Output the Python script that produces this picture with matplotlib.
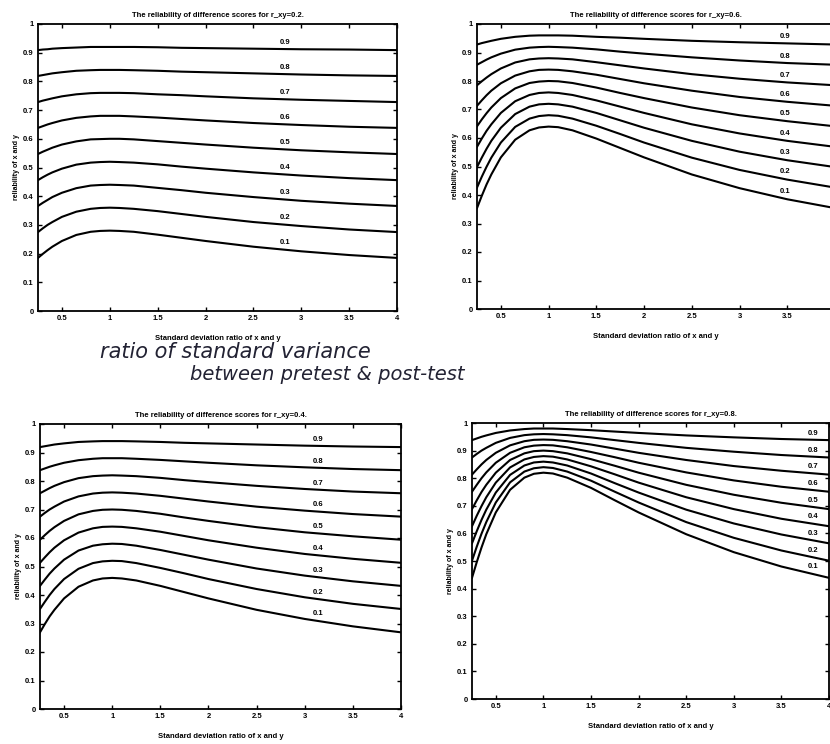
import matplotlib
matplotlib.use("Agg")
import matplotlib.pyplot as plt
import numpy as np

# sd ratio of x and y (x axis) and curve labels
sd_ratio = [0.25, 0.3, 0.35, 0.4, 0.5, 0.65, 0.8, 0.9, 1.0, 1.1, 1.25, 1.5, 1.75, 2.0, 2.5, 3.0, 3.5, 4.0]
curve_labels = ['0.1', '0.2', '0.3', '0.4', '0.5', '0.6', '0.7', '0.8', '0.9']

# reliability of x and y, one row per curve (0.1 ... 0.9)
rel_r02 = [
    [0.185, 0.199, 0.212, 0.224, 0.244, 0.265, 0.276, 0.279, 0.280, 0.279, 0.276, 0.266, 0.255, 0.244, 0.224, 0.208, 0.195, 0.185],
    [0.275, 0.288, 0.300, 0.310, 0.328, 0.346, 0.356, 0.359, 0.360, 0.359, 0.356, 0.348, 0.338, 0.328, 0.310, 0.296, 0.284, 0.275],
    [0.366, 0.377, 0.387, 0.397, 0.412, 0.428, 0.437, 0.439, 0.440, 0.439, 0.437, 0.429, 0.421, 0.412, 0.397, 0.384, 0.374, 0.366],
    [0.456, 0.466, 0.475, 0.483, 0.496, 0.510, 0.517, 0.519, 0.520, 0.519, 0.517, 0.511, 0.503, 0.496, 0.483, 0.472, 0.463, 0.456],
    [0.547, 0.555, 0.562, 0.569, 0.580, 0.591, 0.598, 0.599, 0.600, 0.600, 0.598, 0.592, 0.586, 0.580, 0.569, 0.560, 0.553, 0.547],
    [0.638, 0.644, 0.650, 0.655, 0.664, 0.673, 0.678, 0.680, 0.680, 0.680, 0.678, 0.674, 0.669, 0.664, 0.655, 0.648, 0.642, 0.638],
    [0.728, 0.733, 0.737, 0.741, 0.748, 0.755, 0.759, 0.760, 0.760, 0.760, 0.759, 0.755, 0.752, 0.748, 0.741, 0.736, 0.732, 0.728],
    [0.819, 0.822, 0.825, 0.828, 0.832, 0.837, 0.839, 0.840, 0.840, 0.840, 0.839, 0.837, 0.834, 0.832, 0.828, 0.824, 0.821, 0.819],
    [0.909, 0.911, 0.912, 0.914, 0.916, 0.918, 0.920, 0.920, 0.920, 0.920, 0.920, 0.919, 0.917, 0.916, 0.914, 0.912, 0.911, 0.909],
]
rel_r04 = [
    [0.269, 0.298, 0.325, 0.348, 0.388, 0.429, 0.451, 0.458, 0.460, 0.458, 0.451, 0.432, 0.410, 0.388, 0.348, 0.316, 0.290, 0.269],
    [0.351, 0.376, 0.400, 0.421, 0.456, 0.492, 0.512, 0.518, 0.520, 0.519, 0.512, 0.495, 0.476, 0.456, 0.421, 0.392, 0.369, 0.351],
    [0.432, 0.454, 0.475, 0.493, 0.524, 0.556, 0.573, 0.578, 0.580, 0.579, 0.573, 0.558, 0.541, 0.524, 0.493, 0.468, 0.448, 0.432],
    [0.513, 0.532, 0.550, 0.566, 0.592, 0.619, 0.634, 0.639, 0.640, 0.639, 0.634, 0.622, 0.607, 0.592, 0.566, 0.544, 0.527, 0.513],
    [0.594, 0.610, 0.625, 0.638, 0.660, 0.683, 0.695, 0.699, 0.700, 0.699, 0.695, 0.685, 0.672, 0.660, 0.638, 0.620, 0.606, 0.594],
    [0.675, 0.688, 0.700, 0.710, 0.728, 0.746, 0.756, 0.759, 0.760, 0.759, 0.756, 0.748, 0.738, 0.728, 0.710, 0.696, 0.684, 0.675],
    [0.757, 0.766, 0.775, 0.783, 0.796, 0.810, 0.817, 0.819, 0.820, 0.819, 0.817, 0.811, 0.803, 0.796, 0.783, 0.772, 0.763, 0.757],
    [0.838, 0.844, 0.850, 0.855, 0.864, 0.873, 0.878, 0.880, 0.880, 0.880, 0.878, 0.874, 0.869, 0.864, 0.855, 0.848, 0.842, 0.838],
    [0.919, 0.922, 0.925, 0.928, 0.932, 0.937, 0.939, 0.940, 0.940, 0.940, 0.939, 0.937, 0.934, 0.932, 0.928, 0.924, 0.921, 0.919],
]
rel_r06 = [
    [0.354, 0.397, 0.437, 0.472, 0.532, 0.594, 0.627, 0.637, 0.640, 0.638, 0.627, 0.598, 0.565, 0.532, 0.472, 0.424, 0.385, 0.354],
    [0.426, 0.464, 0.499, 0.531, 0.584, 0.639, 0.668, 0.677, 0.680, 0.678, 0.668, 0.643, 0.614, 0.584, 0.531, 0.488, 0.454, 0.426],
    [0.498, 0.531, 0.562, 0.590, 0.636, 0.684, 0.710, 0.718, 0.720, 0.718, 0.710, 0.688, 0.662, 0.636, 0.590, 0.552, 0.522, 0.498],
    [0.569, 0.598, 0.625, 0.648, 0.688, 0.729, 0.751, 0.758, 0.760, 0.758, 0.751, 0.732, 0.710, 0.688, 0.648, 0.616, 0.590, 0.569],
    [0.641, 0.665, 0.687, 0.707, 0.740, 0.774, 0.793, 0.798, 0.800, 0.799, 0.793, 0.777, 0.758, 0.740, 0.707, 0.680, 0.659, 0.641],
    [0.713, 0.732, 0.750, 0.766, 0.792, 0.819, 0.834, 0.839, 0.840, 0.839, 0.834, 0.822, 0.807, 0.792, 0.766, 0.744, 0.727, 0.713],
    [0.785, 0.799, 0.812, 0.824, 0.844, 0.865, 0.876, 0.879, 0.880, 0.879, 0.876, 0.866, 0.855, 0.844, 0.824, 0.808, 0.795, 0.785],
    [0.857, 0.866, 0.875, 0.883, 0.896, 0.910, 0.917, 0.919, 0.920, 0.919, 0.917, 0.911, 0.903, 0.896, 0.883, 0.872, 0.863, 0.857],
    [0.928, 0.933, 0.937, 0.941, 0.948, 0.955, 0.959, 0.960, 0.960, 0.960, 0.959, 0.955, 0.952, 0.948, 0.941, 0.936, 0.932, 0.928],
]
rel_r08 = [
    [0.439, 0.496, 0.549, 0.597, 0.676, 0.758, 0.802, 0.816, 0.820, 0.817, 0.802, 0.765, 0.720, 0.676, 0.597, 0.532, 0.480, 0.439],
    [0.501, 0.552, 0.599, 0.641, 0.712, 0.785, 0.824, 0.836, 0.840, 0.837, 0.824, 0.791, 0.751, 0.712, 0.641, 0.584, 0.538, 0.501],
    [0.564, 0.608, 0.649, 0.686, 0.748, 0.812, 0.846, 0.857, 0.860, 0.857, 0.846, 0.817, 0.782, 0.748, 0.686, 0.636, 0.596, 0.564],
    [0.626, 0.664, 0.699, 0.731, 0.784, 0.839, 0.868, 0.877, 0.880, 0.878, 0.868, 0.843, 0.814, 0.784, 0.731, 0.688, 0.653, 0.626],
    [0.688, 0.720, 0.750, 0.776, 0.820, 0.866, 0.890, 0.898, 0.900, 0.898, 0.890, 0.869, 0.845, 0.820, 0.776, 0.740, 0.711, 0.688],
    [0.751, 0.776, 0.800, 0.821, 0.856, 0.892, 0.912, 0.918, 0.920, 0.919, 0.912, 0.895, 0.876, 0.856, 0.821, 0.792, 0.769, 0.751],
    [0.813, 0.832, 0.850, 0.866, 0.892, 0.919, 0.934, 0.939, 0.940, 0.939, 0.934, 0.922, 0.907, 0.892, 0.866, 0.844, 0.827, 0.813],
    [0.875, 0.888, 0.900, 0.910, 0.928, 0.946, 0.956, 0.959, 0.960, 0.959, 0.956, 0.948, 0.938, 0.928, 0.910, 0.896, 0.884, 0.875],
    [0.938, 0.944, 0.950, 0.955, 0.964, 0.973, 0.978, 0.980, 0.980, 0.980, 0.978, 0.974, 0.969, 0.964, 0.955, 0.948, 0.942, 0.938],
]

W, H = 830, 744
fig = plt.figure(figsize=(W / 100, H / 100), dpi=100)
fig.patch.set_facecolor('white')
plt.rcParams['font.family'] = ['Liberation Sans', 'DejaVu Sans']


def px_axes(left, right, top, bottom):
    return fig.add_axes([left / W, 1 - bottom / H, (right - left) / W, (bottom - top) / H])


# (r_xy, data, axes box in pixels, x where the curve labels sit, x tick labels)
all_ticks = ['0.5', '1', '1.5', '2', '2.5', '3', '3.5', '4']
panels = [
    ('0.2', rel_r02, (38, 397, 24, 311), 2.78, all_ticks),
    ('0.6', rel_r06, (477, 835, 24, 309), 3.42, all_ticks[:-1] + ['']),
    ('0.4', rel_r04, (40, 401, 424, 709), 3.08, all_ticks),
    ('0.8', rel_r08, (472, 829, 423, 699), 3.78, all_ticks),
]

for r_xy, rel, box, lab_x, xt_labels in panels:
    ax = px_axes(*box)
    for lab, row in zip(curve_labels, rel):
        ax.plot(sd_ratio, row, color='black', lw=1.5)
        y_lab = np.interp(lab_x, sd_ratio, row) + 0.022
        ax.text(lab_x, y_lab, lab, fontsize=5.5, fontweight='bold',
                ha='left', va='center')
    ax.set_xlim(0.25, 4)
    ax.set_ylim(0, 1)
    ax.set_xticks([0.5, 1, 1.5, 2, 2.5, 3, 3.5, 4])
    ax.set_xticklabels(xt_labels)
    ax.set_yticks(np.arange(0, 1.01, 0.1))
    ax.set_yticklabels(['0', '0.1', '0.2', '0.3', '0.4', '0.5', '0.6', '0.7', '0.8', '0.9', '1'])
    ax.tick_params(direction='in', top=True, right=True, length=3, width=1,
                   labelsize=5.5, pad=3)
    for t in ax.get_xticklabels() + ax.get_yticklabels():
        t.set_fontweight('bold')
    for s in ax.spines.values():
        s.set_linewidth(1.3)
    ax.set_title('The reliability of difference scores for r_xy=' + r_xy + '.',
                 fontsize=5.5, fontweight='bold', pad=5)
    ax.set_xlabel('Standard deviation ratio of x and y', fontsize=5.5,
                  fontweight='bold', labelpad=9)
    ax.set_ylabel('reliability of x and y', fontsize=5, fontweight='bold', labelpad=2)

# handwritten note under the first panel
fig.text(100 / W, 1 - 352 / H, 'ratio of standard variance', fontsize=15,
         style='italic', color='#222233', va='center', family='DejaVu Sans')
fig.text(190 / W, 1 - 375 / H, 'between pretest & post-test', fontsize=14,
         style='italic', color='#222233', va='center', family='DejaVu Sans')

fig.savefig('out.png', dpi=100)
